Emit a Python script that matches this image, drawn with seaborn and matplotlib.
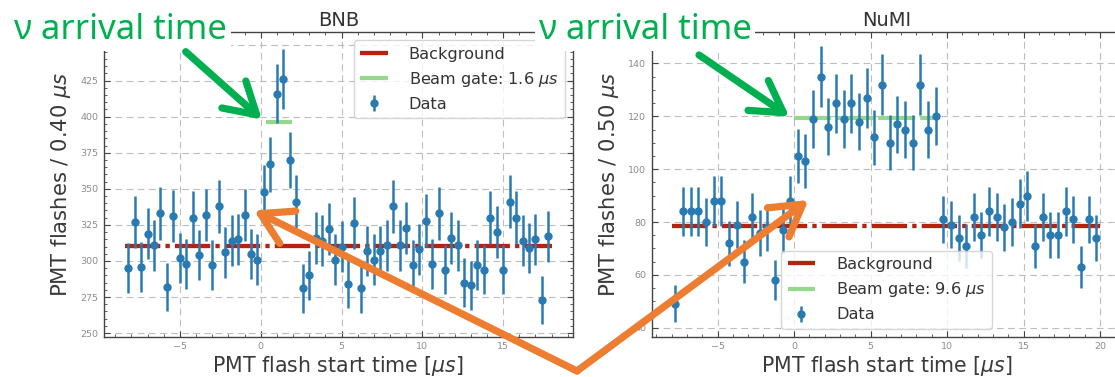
import numpy as np
import pandas as pd
import matplotlib
matplotlib.use("Agg")
import matplotlib.pyplot as plt
from matplotlib.ticker import MultipleLocator, AutoMinorLocator
from matplotlib.patches import FancyArrowPatch, ArrowStyle
import seaborn as sns

# ---------------- data ----------------
bnb_time = [-8.2, -7.8, -7.4, -7.0, -6.6, -6.2, -5.8, -5.4, -5.0, -4.6, -4.2,
            -3.8, -3.4, -3.0, -2.6, -2.2, -1.8, -1.4, -1.0, -0.6, -0.2,
            0.2, 0.6, 1.0, 1.4, 1.8, 2.2, 2.6, 3.0, 3.4, 3.8, 4.2, 4.6,
            5.0, 5.4, 5.8, 6.2, 6.6, 7.0, 7.4, 7.8, 8.2, 8.6, 9.0, 9.4,
            9.8, 10.2, 10.6, 11.0, 11.4, 11.8, 12.2, 12.6, 13.0, 13.4,
            13.8, 14.2, 14.6, 15.0, 15.4, 15.8, 16.2, 16.6, 17.0, 17.4, 17.8]
bnb_counts = [295, 327, 296, 319, 311, 333, 282, 331, 302, 298, 330,
              304, 332, 297, 338, 306, 314, 315, 332, 305, 301,
              348, 367, 416, 426, 370, 341, 281, 290, 316, 314, 322, 301,
              310, 284, 326, 281, 307, 301, 307, 311, 338, 311, 323, 297,
              308, 328, 298, 333, 294, 316, 311, 285, 283, 297,
              294, 330, 320, 294, 341, 330, 314, 309, 315, 273, 317]
bnb_background = 310.5
bnb_background_span = [-8.4, 18.0]
bnb_gate_level = 396
bnb_gate_span = [0.35, 1.95]

numi_time = [-7.75, -7.25, -6.75, -6.25, -5.75, -5.25, -4.75, -4.25, -3.75,
             -3.25, -2.75, -2.25, -1.75, -1.25, -0.75, -0.25, 0.25, 0.75,
             1.25, 1.75, 2.25, 2.75, 3.25, 3.75, 4.25, 4.75, 5.25, 5.75,
             6.25, 6.75, 7.25, 7.75, 8.25, 8.75, 9.25, 9.75, 10.25, 10.75,
             11.25, 11.75, 12.25, 12.75, 13.25, 13.75, 14.25, 14.75, 15.25,
             15.75, 16.25, 16.75, 17.25, 17.75, 18.25, 18.75, 19.25, 19.75]
numi_counts = [49, 84, 84, 84, 80, 88, 88, 72, 79, 65, 82, 76, 78, 58, 77, 88,
               105, 103, 119, 135, 116, 125, 119, 125, 118, 127, 112, 132,
               110, 117, 115, 110, 132, 115, 120, 81, 79, 74, 71, 82, 75, 84,
               82, 78, 80, 87, 90, 71, 82, 75, 75, 84, 81, 63, 81, 74]
numi_background = 78.5
numi_background_span = [-8.0, 20.0]
numi_gate_level = 119.5
numi_gate_span = [0.0, 9.3]

panel_titles = ["BNB", "NuMI"]
y_labels = ["PMT flashes / 0.40 $\\mu s$", "PMT flashes / 0.50 $\\mu s$"]
x_label = "PMT flash start time [$\\mu s$]"
gate_labels = ["Beam gate: 1.6 $\\mu s$", "Beam gate: 9.6 $\\mu s$"]
note_text = "ν arrival time"

# ---------------- style ----------------
W, H = 1115, 377
sns.set_theme(style="whitegrid")
plt.rcParams.update({
    "font.family": ["DejaVu Sans"],
    "axes.facecolor": "white",
    "axes.edgecolor": "#444444",
    "axes.linewidth": 1.0,
    "xtick.bottom": True, "xtick.top": True,
    "ytick.left": True, "ytick.right": True,
    "xtick.direction": "in", "ytick.direction": "in",
    "xtick.color": "#444444", "ytick.color": "#444444",
    "xtick.labelcolor": "#8c8c8c", "ytick.labelcolor": "#8c8c8c",
    "xtick.labelsize": 6.8, "ytick.labelsize": 6.8,
    "xtick.major.size": 4, "ytick.major.size": 4,
    "xtick.minor.size": 2, "ytick.minor.size": 2,
    "xtick.major.width": 0.8, "ytick.major.width": 0.8,
    "xtick.minor.width": 0.6, "ytick.minor.width": 0.6,
    "xtick.major.pad": 4, "ytick.major.pad": 4,
})

DATA_C = "#2a7ab2"
BKG_C = "#b5230f"
GATE_C = "#94d88c"
GREEN = "#00b050"
ORANGE = "#ed7d31"

fig = plt.figure(figsize=(W / 100, H / 100), dpi=100)
ax1 = fig.add_axes([103.6 / W, 1 - 336.7 / H, (573 - 103.6) / W, (336.7 - 32.3) / H])
ax2 = fig.add_axes([651.7 / W, 1 - 336.7 / H, (1121.5 - 651.7) / W, (336.7 - 32.3) / H])


def draw_panel(ax, time, counts, bkg, bkg_span, gate, gate_span, gate_label,
               title, ylabel, ylim, ymajor, loc):
    df = pd.DataFrame({"t": time, "n": counts})
    bkg_df = pd.DataFrame({"t": bkg_span, "n": [bkg, bkg]})
    gate_df = pd.DataFrame({"t": gate_span, "n": [gate, gate]})
    sns.lineplot(data=bkg_df, x="t", y="n", ax=ax, color=BKG_C, lw=3.1,
                 linestyle=(0, (8.2, 1.2, 1.0, 1.2)), label="Background",
                 zorder=2)
    sns.lineplot(data=gate_df, x="t", y="n", ax=ax, color=GATE_C, lw=3.0,
                 linestyle=(0, (8.9, 1.2)), label=gate_label, zorder=2)
    # Poisson (sqrt N) uncertainties on the counts, as in the original plot
    ax.errorbar(df["t"], df["n"], yerr=np.sqrt(df["n"]), fmt="o",
                color=DATA_C, ms=5, elinewidth=1.8, capsize=0, label="Data",
                zorder=3)
    ax.set_ylim(*ylim)
    ax.xaxis.set_major_locator(MultipleLocator(5))
    ax.yaxis.set_major_locator(MultipleLocator(ymajor))
    ax.xaxis.set_minor_locator(AutoMinorLocator())
    ax.yaxis.set_minor_locator(AutoMinorLocator())
    ax.grid(True, which="major", color="#bdbdbd", lw=0.8, linestyle=(0, (6, 4)))
    ax.grid(False, which="minor")
    ax.set_title(title, fontsize=14, color="#333333", pad=4.5)
    ax.set_xlabel(x_label, fontsize=14.8, color="#3a3a3a", labelpad=2)
    ax.set_ylabel(ylabel, fontsize=15.2, color="#3a3a3a", labelpad=5)
    leg = ax.legend(loc=loc, fontsize=11.6, frameon=True, framealpha=0.8,
                    edgecolor="#cccccc", fancybox=True, handlelength=1.7,
                    handletextpad=1.3)
    for t in leg.get_texts():
        t.set_color("#333333")


draw_panel(ax1, bnb_time, bnb_counts, bnb_background, bnb_background_span,
           bnb_gate_level, bnb_gate_span, gate_labels[0], panel_titles[0],
           y_labels[0], (247.5, 458.5), 25, "upper right")
ax1.set_xlim(-9.72, 19.32)
draw_panel(ax2, numi_time, numi_counts, numi_background, numi_background_span,
           numi_gate_level, numi_gate_span, gate_labels[1], panel_titles[1],
           y_labels[1], (36.6, 151.8), 20, "lower center")
ax2.set_xlim(-9.3, 21.4)


# ---------------- slide overlay annotations ----------------
def fp(x, y):
    return (x / W, 1 - y / H)


txt_kw = dict(fontsize=25, color=GREEN, family=["Noto Sans", "DejaVu Sans"],
              va="baseline", zorder=10,
              bbox=dict(facecolor="white", edgecolor="none", pad=2.5))
fig.text(*fp(14.3, 39.3), note_text, ha="left", **txt_kw)
fig.text(*fp(751.4, 39.3), note_text, ha="right", **txt_kw)


def arrow(p0, p1, color, lw):
    a = FancyArrowPatch(fp(*p0), fp(*p1), transform=fig.transFigure,
                        arrowstyle=ArrowStyle("->", head_length=22, head_width=13),
                        mutation_scale=1, color=color, lw=lw,
                        shrinkA=0, shrinkB=0, zorder=11)
    a.set_capstyle("round")
    a.set_joinstyle("round")
    fig.add_artist(a)


arrow((185.7, 51.7), (262.0, 119.5), GREEN, 5.2)
arrow((699.0, 55.0), (789.3, 116.7), GREEN, 5.2)
arrow((577.0, 371.0), (254.0, 210.5), ORANGE, 5.2)
arrow((577.0, 371.0), (808.5, 200.0), ORANGE, 5.2)

fig.savefig("out.png", dpi=100)
